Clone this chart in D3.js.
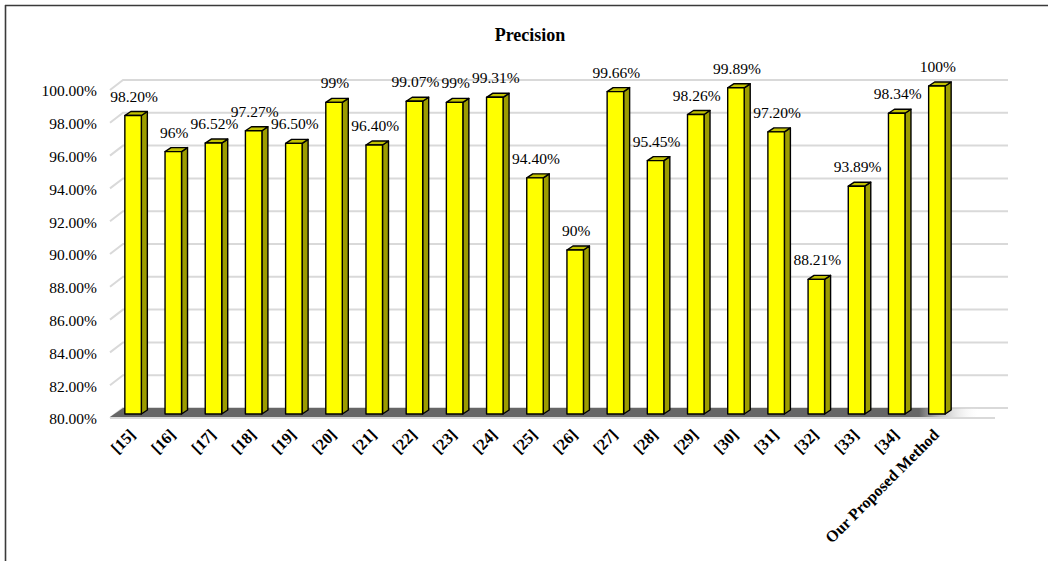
<!DOCTYPE html>
<html>
<head>
<meta charset="utf-8">
<script src="https://cdn.jsdelivr.net/npm/d3@7/dist/d3.min.js"></script>
<style>
  html, body { margin: 0; padding: 0; background: #fff; }
  svg { display: block; }
  text { font-family: "Liberation Serif", "Times New Roman", serif; }
</style>
</head>
<body>
<svg id="chart" width="1048" height="561"></svg>
<script>
// Methods compared and their precision (%)
const methods = ["[15]", "[16]", "[17]", "[18]", "[19]", "[20]", "[21]", "[22]", "[23]", "[24]",
  "[25]", "[26]", "[27]", "[28]", "[29]", "[30]", "[31]", "[32]", "[33]", "[34]", "Our Proposed Method"];
const precision = [98.20, 96, 96.52, 97.27, 96.50, 99, 96.40, 99.07, 99, 99.31,
  94.40, 90, 99.66, 95.45, 98.26, 99.89, 97.20, 88.21, 93.89, 98.34, 100];
const valueLabels = ["98.20%", "96%", "96.52%", "97.27%", "96.50%", "99%", "96.40%", "99.07%", "99%", "99.31%",
  "94.40%", "90%", "99.66%", "95.45%", "98.26%", "99.89%", "97.20%", "88.21%", "93.89%", "98.34%", "100%"];
const yTicks = [80, 82, 84, 86, 88, 90, 92, 94, 96, 98, 100];

const svg = d3.select("#chart");
const W = 1048, H = 561;
const serif = "Liberation Serif, Times New Roman, serif";

// geometry of the pseudo-3D plot
const wallDX = 13, wallDY = 10;   // depth of the back wall
const barDX = 6, barDY = 4;       // depth of each bar
const plotLeft = 110, plotRight = 995;

const x = d3.scaleBand().domain(methods).range([113, 957]).padding(0);
const barW = 16.5;
const y = d3.scaleLinear().domain([80, 100]).range([414, 86]);

// outer frame
svg.append("line").attr("x1", 5.5).attr("y1", 5).attr("x2", 5.5).attr("y2", H)
  .attr("stroke", "#3a3a3a").attr("stroke-width", 1.6);
svg.append("line").attr("x1", 5).attr("y1", 5.5).attr("x2", W).attr("y2", 5.5)
  .attr("stroke", "#3a3a3a").attr("stroke-width", 1.6);

// title
svg.append("text").attr("x", 530).attr("y", 41).attr("text-anchor", "middle")
  .attr("font-size", 18).attr("font-weight", "bold").attr("fill", "#000").text("Precision");

// gridlines: short diagonal on the side wall, then across the back wall
const grid = svg.append("g").attr("fill", "none").attr("stroke", "#d9d9d9").attr("stroke-width", 2);
grid.selectAll("path").data(yTicks).join("path")
  .attr("d", v => `M${plotLeft},${y(v) + 4}L${plotLeft + wallDX},${y(v) + 4 - wallDY}L${plotRight + wallDX},${y(v) + 4 - wallDY}`);
// front edge of the floor
grid.append("line").attr("x1", plotLeft).attr("y1", y(80) + 4).attr("x2", plotRight).attr("y2", y(80) + 4);

// floor shading under the bars
const defs = svg.append("defs");
const fg = defs.append("linearGradient").attr("id", "floorGrad")
  .attr("gradientUnits", "userSpaceOnUse").attr("x1", plotLeft).attr("x2", 980).attr("y1", 0).attr("y2", 0);
fg.append("stop").attr("offset", 0).attr("stop-color", "#666666");
fg.append("stop").attr("offset", 0.93).attr("stop-color", "#666666");
fg.append("stop").attr("offset", 1).attr("stop-color", "#ffffff").attr("stop-opacity", 0);
const fy0 = y(80) + 3, fy1 = y(80) + 3 - 9;
svg.append("path")
  .attr("d", `M${plotLeft},${fy0}L${plotLeft + wallDX},${fy1}L${985},${fy1}L${975},${fy0}Z`)
  .attr("fill", "url(#floorGrad)");

// bars
const bars = svg.append("g").attr("stroke", "#000").attr("stroke-width", 1.4).attr("stroke-linejoin", "round");
const cx = d => x(d) + x.bandwidth() / 2;
const rows = methods.map((m, i) => ({ m, v: precision[i], label: valueLabels[i] }));

const barG = bars.selectAll("g").data(rows).join("g");
// side face
barG.append("path").attr("fill", "#9c9c00")
  .attr("d", d => {
    const r = cx(d.m) + barW / 2, t = y(d.v), b = y(80);
    return `M${r},${t}L${r + barDX},${t - barDY}L${r + barDX},${b - barDY}L${r},${b}Z`;
  });
// top face
barG.append("path").attr("fill", "#c2c200")
  .attr("d", d => {
    const l = cx(d.m) - barW / 2, r = cx(d.m) + barW / 2, t = y(d.v);
    return `M${l},${t}L${l + barDX},${t - barDY}L${r + barDX},${t - barDY}L${r},${t}Z`;
  });
// front face
barG.append("rect").attr("fill", "#ffff00")
  .attr("x", d => cx(d.m) - barW / 2).attr("y", d => y(d.v))
  .attr("width", barW).attr("height", d => y(80) - y(d.v));

// value labels
svg.append("g").selectAll("text").data(rows).join("text")
  .attr("x", d => cx(d.m) + 1).attr("y", d => y(d.v) - 14)
  .attr("text-anchor", "middle").attr("font-size", 15.5).attr("font-family", serif).attr("fill", "#000")
  .text(d => d.label);

// value axis (labels only)
const yAxis = svg.append("g").attr("transform", "translate(97,5)")
  .call(d3.axisLeft(y).tickValues(yTicks).tickSize(0).tickPadding(0).tickFormat(v => v.toFixed(2) + "%"));
yAxis.select(".domain").remove();
yAxis.selectAll("text").attr("font-size", 15.5).attr("font-family", serif).attr("fill", "#000");

// category axis with slanted labels
const xAxis = svg.append("g").attr("transform", "translate(0,431)")
  .call(d3.axisBottom(x).tickSize(0).tickPadding(0));
xAxis.select(".domain").remove();
xAxis.selectAll("text")
  .attr("font-size", 16).attr("font-weight", "bold")
  .attr("font-family", serif).attr("fill", "#000")
  .attr("x", -1).attr("y", 0).attr("dy", "0.35em")
  .attr("transform", "rotate(-45)").style("text-anchor", "end");
</script>
</body>
</html>
